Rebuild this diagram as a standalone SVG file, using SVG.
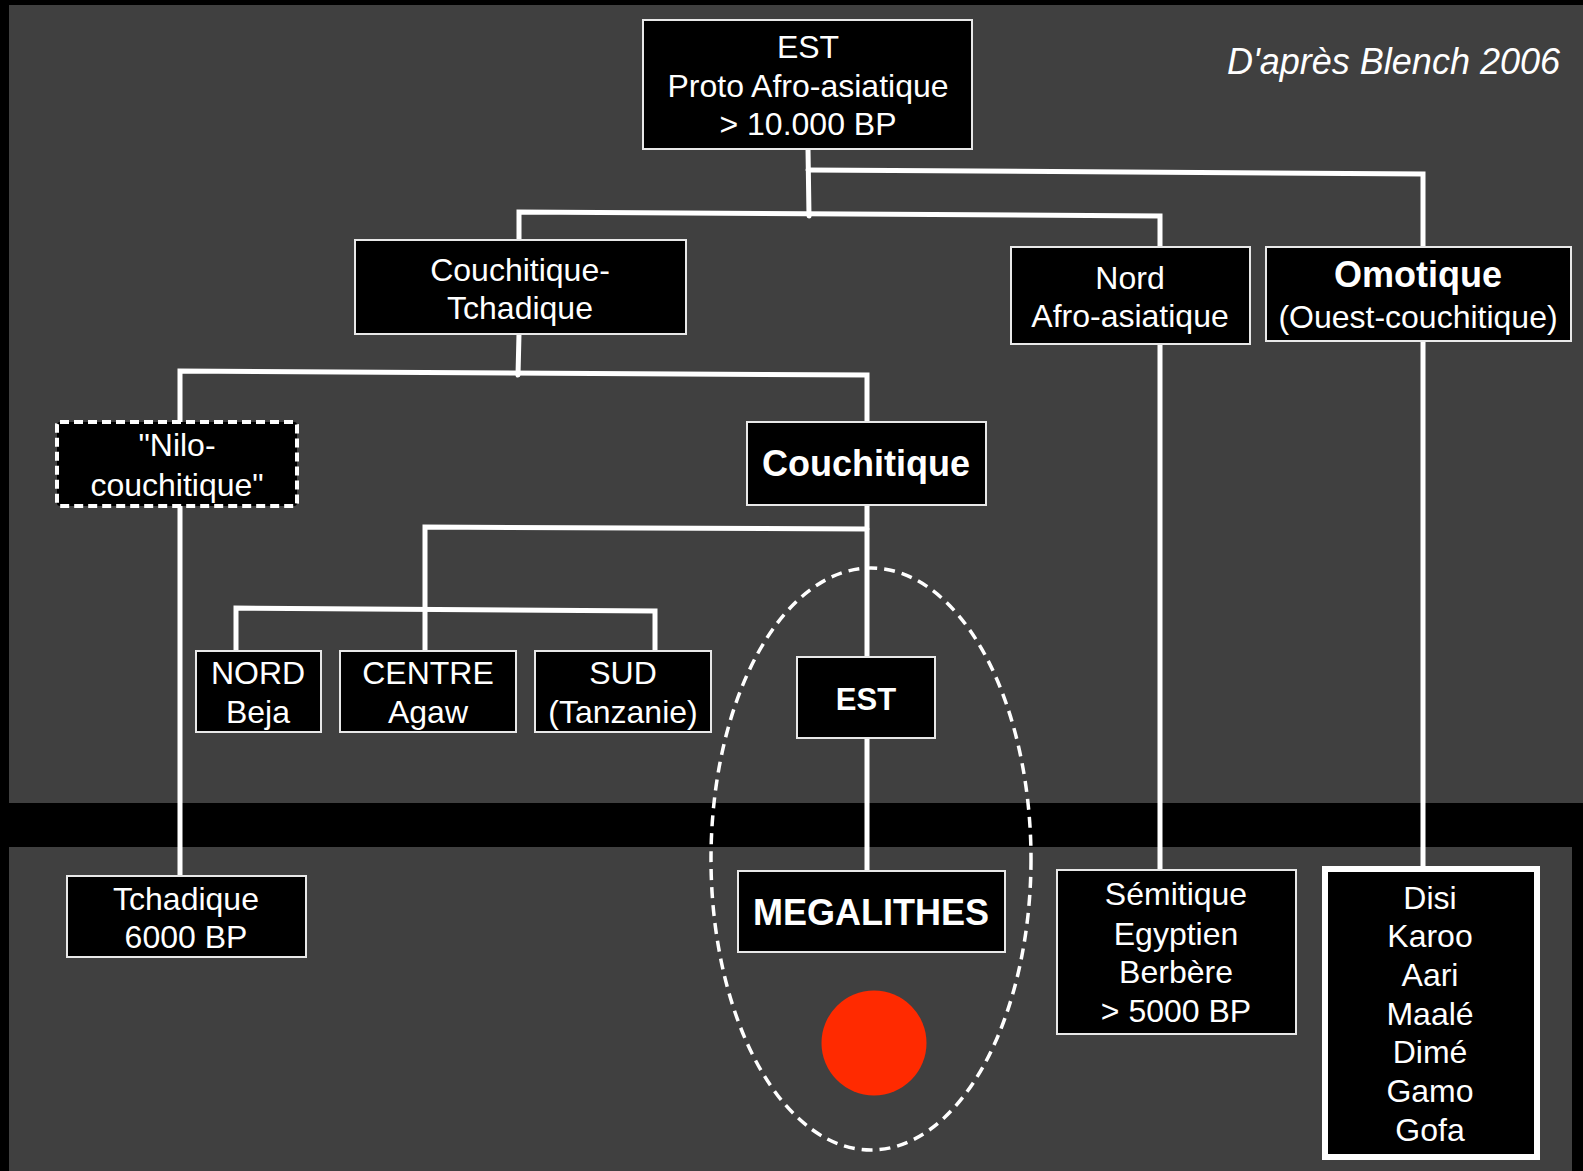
<svg xmlns="http://www.w3.org/2000/svg" width="1583" height="1171" viewBox="0 0 1583 1171">
<style>
.bx{fill:#000;stroke:#e8e8e8;stroke-width:2}
.t{font-family:"Liberation Sans",Arial,Helvetica,sans-serif;font-size:32px;fill:#fff;text-anchor:middle}
.b{font-weight:bold;font-size:36px}
.c{fill:none;stroke:#fff;stroke-width:5;stroke-linecap:round}
</style>
<rect x="0" y="0" width="1583" height="1171" fill="#000"/>
<rect x="9" y="5" width="1574" height="798" fill="#404040"/>
<rect x="9" y="847" width="1563" height="324" fill="#404040"/>
<text class="t" x="1560" y="74" style="font-size:36px;font-style:italic;text-anchor:end">D'après Blench 2006</text>
<g id="connectors">
<path class="c" d="M808 149 L809 216"/>
<path class="c" d="M808 170 L1423 174 L1423 247"/>
<path class="c" d="M519 240 L519 212 L1160 216 L1160 247"/>
<path class="c" d="M519 334 L518 375"/>
<path class="c" d="M180 422 L180 371 L867 375 L867 422"/>
<path class="c" d="M867 505 L867 657"/>
<path class="c" d="M425 651 L425 527 L867 529"/>
<path class="c" d="M236 651 L236 608 L655 611 L655 651"/>
<path class="c" d="M867 739 L867 871"/>
<path class="c" d="M180 507 L180 876"/>
<path class="c" d="M1160 344 L1160 870"/>
<path class="c" d="M1423 342 L1423 867"/>
</g>
<g id="est-proto">
<rect class="bx" x="643" y="20" width="329" height="129"/>
<text class="t" x="808" y="58">EST</text>
<text class="t" x="808" y="97">Proto Afro-asiatique</text>
<text class="t" x="808" y="135">&gt; 10.000 BP</text>
</g>
<g id="couchitique-tchadique">
<rect class="bx" x="355" y="240" width="331" height="94"/>
<text class="t" x="520" y="281">Couchitique-</text>
<text class="t" x="520" y="319">Tchadique</text>
</g>
<g id="nord-afro">
<rect class="bx" x="1011" y="247" width="239" height="97"/>
<text class="t" x="1130" y="289">Nord</text>
<text class="t" x="1130" y="327">Afro-asiatique</text>
</g>
<g id="omotique">
<rect class="bx" x="1266" y="247" width="305" height="94"/>
<text class="t b" x="1418" y="287">Omotique</text>
<text class="t" x="1418" y="328">(Ouest-couchitique)</text>
</g>
<g id="nilo">
<rect x="57" y="422" width="240" height="84" rx="3" fill="#000" stroke="#fff" stroke-width="4" stroke-dasharray="9 5"/>
<text class="t" x="177" y="456">"Nilo-</text>
<text class="t" x="177" y="496">couchitique"</text>
</g>
<g id="couchitique">
<rect class="bx" x="747" y="422" width="239" height="83"/>
<text class="t b" x="866" y="476">Couchitique</text>
</g>
<g id="nord-beja">
<rect class="bx" x="196" y="651" width="125" height="81"/>
<text class="t" x="258" y="684">NORD</text>
<text class="t" x="258" y="723">Beja</text>
</g>
<g id="centre-agaw">
<rect class="bx" x="340" y="651" width="176" height="81"/>
<text class="t" x="428" y="684">CENTRE</text>
<text class="t" x="428" y="723">Agaw</text>
</g>
<g id="sud">
<rect class="bx" x="535" y="651" width="176" height="81"/>
<text class="t" x="623" y="684">SUD</text>
<text class="t" x="623" y="723">(Tanzanie)</text>
</g>
<g id="est-couchitique">
<rect class="bx" x="797" y="657" width="138" height="81"/>
<text class="t b" x="866" y="710" style="font-size:31px">EST</text>
</g>
<g id="megalithes">
<rect class="bx" x="738" y="871" width="267" height="81"/>
<text class="t b" x="871" y="925">MEGALITHES</text>
</g>
<g id="megalithe-zone">
<ellipse cx="871" cy="859" rx="160" ry="291" fill="none" stroke="#fff" stroke-width="3.5" stroke-dasharray="11 7"/>
<circle cx="874" cy="1043" r="52.5" fill="#ff2a00"/>
</g>
<g id="tchadique">
<rect class="bx" x="67" y="876" width="239" height="81"/>
<text class="t" x="186" y="910">Tchadique</text>
<text class="t" x="186" y="948">6000 BP</text>
</g>
<g id="semitique">
<rect class="bx" x="1057" y="870" width="239" height="164"/>
<text class="t" x="1176" y="905">Sémitique</text>
<text class="t" x="1176" y="945">Egyptien</text>
<text class="t" x="1176" y="983">Berbère</text>
<text class="t" x="1176" y="1022">&gt; 5000 BP</text>
</g>
<g id="omotique-list">
<rect x="1325" y="869" width="212" height="288" fill="#000" stroke="#fff" stroke-width="6"/>
<text class="t" x="1430" y="909">Disi</text>
<text class="t" x="1430" y="947">Karoo</text>
<text class="t" x="1430" y="986">Aari</text>
<text class="t" x="1430" y="1025">Maalé</text>
<text class="t" x="1430" y="1063">Dimé</text>
<text class="t" x="1430" y="1102">Gamo</text>
<text class="t" x="1430" y="1141">Gofa</text>
</g>
</svg>
